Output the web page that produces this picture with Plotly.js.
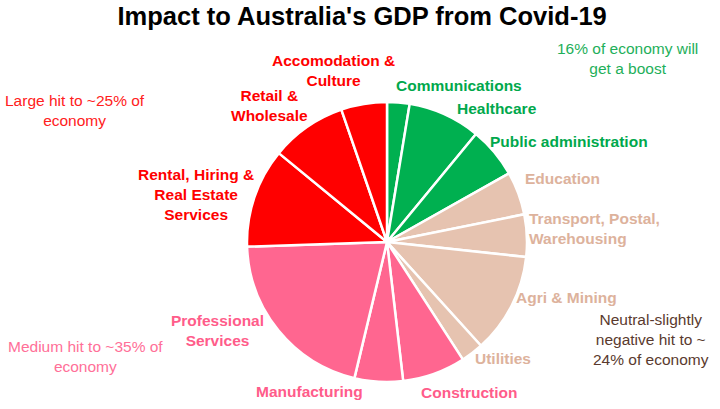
<!DOCTYPE html>
<html><head><meta charset="utf-8">
<script src="https://cdn.plot.ly/plotly-3.0.1.min.js"></script>
<style>html,body{margin:0;padding:0;background:#fff}#c{width:720px;height:409px}</style>
</head><body><div id="c"></div>
<script>
const sectors = ["Communications","Healthcare","Public administration","Education","Transport, Postal, Warehousing","Agri & Mining","Utilities","Construction","Manufacturing","Professional Services","Rental, Hiring & Real Estate Services","Retail & Wholesale","Accomodation & Culture"];
const shares = [2.6, 8.4, 5.9, 5.0, 4.9, 11.6, 2.6, 7.3, 5.6, 20.8, 11.5, 8.8, 5.3];
const groups = ["boost","boost","boost","neutral","neutral","neutral","neutral","medium","medium","medium","large","large","large"];
const labelText = ["Communications","Healthcare","Public administration","Education","Transport, Postal,<br>Warehousing","Agri & Mining","Utilities","Construction","Manufacturing","Professional<br>Services","Rental, Hiring &<br>Real Estate<br>Services","Retail &<br>Wholesale","Accomodation &<br>Culture"];
const groupNotes = {
  large: "Large hit to ~25% of<br>economy",
  boost: "16% of economy will<br>get a boost",
  medium: "Medium hit to ~35% of<br>economy",
  neutral: "Neutral-slightly<br>negative hit to ~<br>24% of economy"
};

const fillColor = {boost:"#00B050", neutral:"#E6C3B0", medium:"#FF6690", large:"#FF0000"};
const textColor = {boost:"#00A84C", neutral:"#DDB29C", medium:"#FF5C8A", large:"#FF0000"};
const noteColor = {boost:"#1EAF5A", neutral:"#5A3A2E", medium:"#FF6F98", large:"#FF2020"};

const W=720,H=409;
const px = (x)=>x/W, py=(y)=>1-y/H;
const labelPos = [[459,85,'center'],[497,108,'center'],[569,141,'center'],[562,179,'center'],[527,228,'left'],[566,297,'center'],[503,358,'center'],[469,392,'center'],[309,391,'center'],[217,330,'center'],[196,195,'center'],[269,106,'center'],[333,71,'center']];
const notePos = {large:[75,110], boost:[627,59], medium:[85,356], neutral:[651,339]};

const annotations = [];
sectors.forEach((s,i)=>{
  const a = labelPos[i][2];
  annotations.push({xref:'paper',yref:'paper',x:px(labelPos[i][0]),y:py(labelPos[i][1]),xanchor:a,yanchor:'middle',
    text:'<b>'+labelText[i]+'</b>',showarrow:false,align:a,
    font:{family:'Liberation Sans, Arial, sans-serif',size:15.5,color:textColor[groups[i]]}});
});
Object.keys(groupNotes).forEach(g=>{
  annotations.push({xref:'paper',yref:'paper',x:px(notePos[g][0]),y:py(notePos[g][1]),xanchor:'center',yanchor:'middle',
    text:groupNotes[g],showarrow:false,align:'center',
    font:{family:'Liberation Sans, Arial, sans-serif',size:15.5,color:noteColor[g]}});
});

const data=[{type:'pie',labels:sectors,values:shares,sort:false,direction:'clockwise',rotation:0,
  marker:{colors:groups.map(g=>fillColor[g]),line:{color:'#ffffff',width:2.5}},
  textinfo:'none',hoverinfo:'label+value',
  domain:{x:[247/W,527/W],y:[1-382/H,1-102/H]}}];

const layout={width:W,height:H,margin:{l:0,r:0,t:0,b:0},paper_bgcolor:'#fff',showlegend:false,
  title:{text:"<b>Impact to Australia's GDP from Covid-19</b>",x:0.503,xanchor:'center',y:1-16/H,yanchor:'middle',
    font:{family:'Liberation Sans, Arial, sans-serif',size:25.5,color:'#000'}},
  annotations:annotations};
Plotly.newPlot('c',data,layout,{displayModeBar:false,staticPlot:true});
</script></body></html>
